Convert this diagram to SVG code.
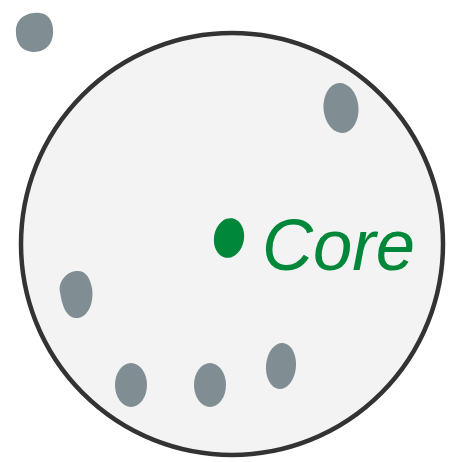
<svg xmlns="http://www.w3.org/2000/svg" width="449" height="462" viewBox="0 0 449 462">
<style>
.dot{fill:#808e93;}
.core{fill:#00873a;}
.lbl{font-family:"Liberation Sans",Arial,sans-serif;font-style:italic;font-size:72px;fill:#00873a;}
</style>
<rect width="449" height="462" fill="#ffffff"/>
<g id="boundary">
<circle cx="232" cy="244" r="211" fill="#f3f3f3" stroke="#333333" stroke-width="4.5"/>
</g>
<g id="connectors"></g>
<g id="outside-node"><path class="dot" d="M16,28 C18,16 30,12 40,13 C50,14 54,24 53,34 C52,46 44,52 33,52 C22,51 15,44 16,28 Z"/></g>
<g id="node-top-right"><ellipse class="dot" cx="341" cy="108" rx="17.5" ry="25" transform="rotate(-5 341 108)"/></g>
<g id="node-left"><path class="dot" d="M60,292 C58,282 66,272 76,271 C86,270 90,278 92,288 C94,300 90,316 78,318 C66,319 62,305 60,292 Z"/></g>
<g id="node-bottom-1"><ellipse class="dot" cx="131" cy="385" rx="16" ry="22"/></g>
<g id="node-bottom-2"><ellipse class="dot" cx="210" cy="385" rx="16" ry="22"/></g>
<g id="node-bottom-3"><ellipse class="dot" cx="281" cy="366" rx="15" ry="23" transform="rotate(5 281 366)"/></g>
<g id="core"><ellipse class="core" cx="229" cy="238" rx="15" ry="20" transform="rotate(10 229 238)"/>
<text class="lbl" x="262" y="270" textLength="153" lengthAdjust="spacingAndGlyphs">Core</text></g>
</svg>
